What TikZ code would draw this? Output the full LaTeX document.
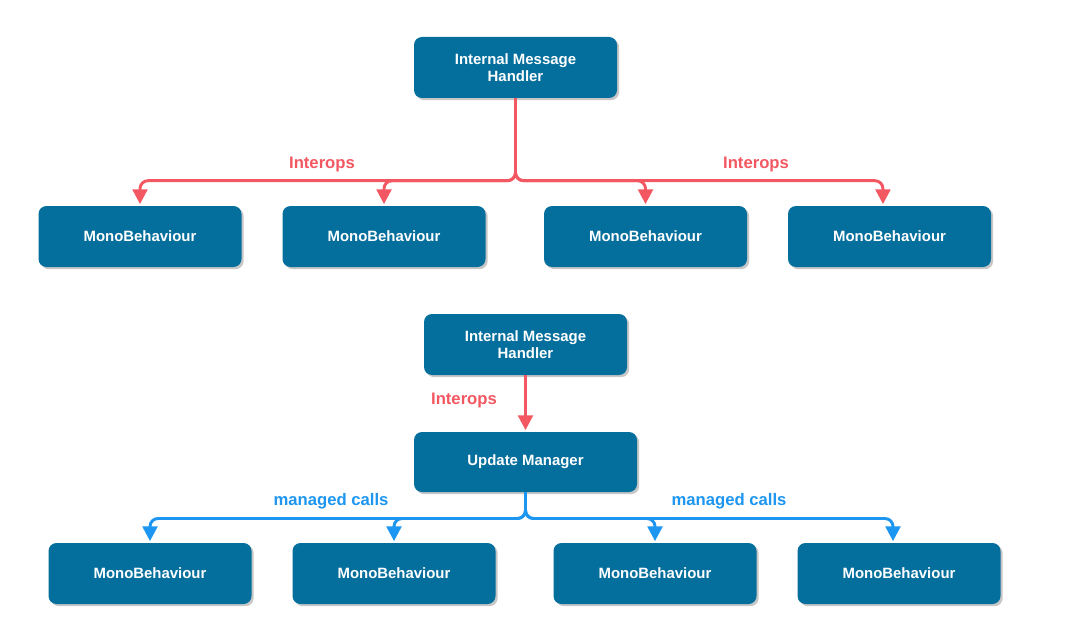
\documentclass[tikz,border=0pt]{standalone}
\usepackage{fontspec}
\setmainfont{Liberation Sans}
\usetikzlibrary{arrows.meta,shadows}
\definecolor{boxblue}{RGB}{4,111,156}
\definecolor{intred}{RGB}{243,88,98}
\definecolor{callblue}{RGB}{28,150,240}
\begin{document}
\begin{tikzpicture}[x=0.75pt,y=-0.75pt,
  box/.style={fill=boxblue, text=white, rounded corners=6pt,
    minimum width=152.25pt, minimum height=45.75pt, align=center,
    font=\fontsize{11.2}{12.5}\selectfont\bfseries, inner sep=0pt,
    drop shadow={shadow xshift=1.6pt, shadow yshift=-1.6pt, fill=black!40, opacity=0.55}},
  widebox/.style={box, minimum width=167.25pt, minimum height=45pt},
  conn/.style={line width=2.2pt, rounded corners=6pt, shorten >=1.2pt,
    -{Triangle[width=11pt,length=11pt]}},
  redarrow/.style={conn, draw=intred, color=intred},
  bluearrow/.style={conn, draw=callblue, color=callblue},
  lbl/.style={font=\fontsize{12.5}{14}\selectfont\bfseries, inner sep=1pt}
]
\useasboundingbox (0,0) rectangle (1088,624);
\fill[white] (0,0) rectangle (1088,624);

% ---- top diagram ----
\node[box] (imh1) at (515.5,67.5) {Internal Message\\Handler};
\node[box] (mb1) at (140,236.5) {MonoBehaviour};
\node[box] (mb2) at (384,236.5) {MonoBehaviour};
\node[box] (mb3) at (645.5,236.5) {MonoBehaviour};
\node[box] (mb4) at (889.5,236.5) {MonoBehaviour};
\coordinate (bus1) at (515.5,180.7);
\coordinate (t4) at ([xshift=-4.9pt]mb4.north);

\draw[redarrow] (imh1.south) -- (bus1) -| (mb1.north);
\draw[redarrow] (imh1.south) -- (bus1) -| (mb2.north);
\draw[redarrow] (imh1.south) -- (bus1) -| (mb3.north);
\draw[redarrow] (imh1.south) -- (bus1) -| (t4);

\node[lbl, text=intred] (l1) at (322,164) {Interops};
\node[lbl, text=intred] (l2) at (756,164) {Interops};

% ---- bottom diagram ----
\node[box] (imh2) at (525.5,344.5) {Internal Message\\Handler};
\node[widebox] (um) at (525.5,462) {Update Manager};
\node[box] (mb5) at (150,573.5) {MonoBehaviour};
\node[box] (mb6) at (394,573.5) {MonoBehaviour};
\node[box] (mb7) at (655,573.5) {MonoBehaviour};
\node[box] (mb8) at (899,573.5) {MonoBehaviour};
\coordinate (bus2) at (525.5,518.5);
\coordinate (t8) at ([xshift=-4.5pt]mb8.north);

\draw[redarrow] (imh2.south) -- (um.north);
\node[lbl, text=intred] (l3) at (464,400) {Interops};

\draw[bluearrow] (um.south) -- (bus2) -| (mb5.north);
\draw[bluearrow] (um.south) -- (bus2) -| (mb6.north);
\draw[bluearrow] (um.south) -- (bus2) -| (mb7.north);
\draw[bluearrow] (um.south) -- (bus2) -| (t8);

\node[lbl, text=callblue] (l4) at (331,501) {managed calls};
\node[lbl, text=callblue] (l5) at (729,501) {managed calls};
\end{tikzpicture}
\end{document}
